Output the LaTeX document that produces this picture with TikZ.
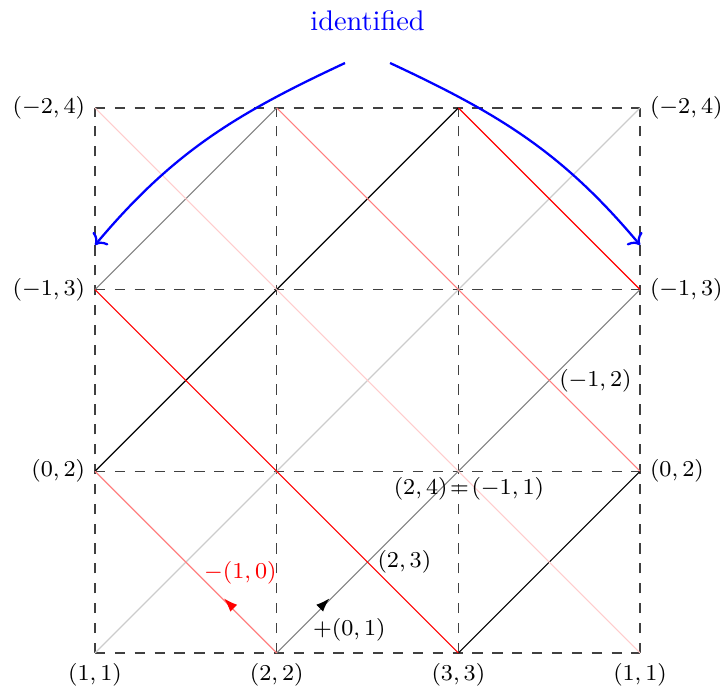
\documentclass[tikz,border=0pt]{standalone}
\usetikzlibrary{arrows.meta}

\begin{document}
\begin{tikzpicture}[
  x=2.25cm,
  y=2.25cm,
  line join=round,
  grid/.style={draw=black!75,dash pattern=on 3.6pt off 3.4pt,line width=0.5pt},
  ray/.style={line width=0.4pt},
  corner/.style={font=\footnotesize},
  glue/.style={draw=blue,thick,->},
  midtip/.style={-{Latex[length=1.7mm,width=1.2mm]}}
]
  \useasboundingbox (-0.523,-0.220) rectangle (3.462,3.594);

  % Lattice points of the fundamental square, (i,j) = column i, row j.
  \foreach \i in {0,1,2,3} {
    \foreach \j in {0,1,2,3} {
      \coordinate (p\i\j) at (\i,\j);
    }
  }

  % Dashed square grid.
  \foreach \k in {0,1,2,3} {
    \draw[grid] (p0\k) -- (p3\k);
    \draw[grid] (p\k0) -- (p\k3);
  }

  % Rising diagonals, faint to dark.
  \draw[ray,black!20] (p00) -- (p33);
  \draw[ray,black!50] (p10) -- (p32);
  \draw[ray,black!50] (p02) -- (p13);
  \draw[ray,black] (p01) -- (p23);
  \draw[ray,black] (p20) -- (p31);

  % Falling diagonals in shades of red.
  \draw[ray,red!20] (p03) -- (p30);
  \draw[ray,red!50] (p13) -- (p31);
  \draw[ray,red] (p23) -- (p32);
  \draw[ray,red] (p02) -- (p20);
  \draw[ray,red!50] (p10) -- (p01);

  % Direction tips near the bottom edge (tip only, the line keeps its shade).
  \coordinate (tailup) at (1.27,0.28);
  \coordinate (tipup) at (1.29,0.30);
  \coordinate (tailleft) at (0.73,0.28);
  \coordinate (tipleft) at (0.71,0.30);
  \draw[ray,midtip,black] (tailup) -- (tipup);
  \draw[ray,midtip,red] (tailleft) -- (tipleft);
  \node[corner,text=red] (minus) at (0.80,0.44) {$-(1,0)$};
  \node[corner] (plus) at (1.40,0.127) {$+(0,1)$};

  % Corner labels, left and right columns.
  \node[corner,left] (l3) at (p03) {$(-2,4)$};
  \node[corner,left] (l2) at (p02) {$(-1,3)$};
  \node[corner,left] (l1) at (p01) {$(0,2)$};
  \node[corner,right] (r3) at (p33) {$(-2,4)$};
  \node[corner,right] (r2) at (p32) {$(-1,3)$};
  \node[corner,right] (r1) at (p31) {$(0,2)$};

  % Bottom row labels.
  \node[corner,below] (b0) at (p00) {$(1,1)$};
  \node[corner,below] (b1) at (p10) {$(2,2)$};
  \node[corner,below] (b2) at (p20) {$(3,3)$};
  \node[corner,below] (b3) at (p30) {$(1,1)$};

  % Interior labels.
  \node[corner,right] (m1) at (1.5,0.5) {$(2,3)$};
  \node[corner,right] (m2) at (2.5,1.5) {$(-1,2)$};
  \node[corner] (m3) at (2.058,0.903) {$(2,4)\!=\!(-1,1)$};

  % Identification of the two slanted sides.
  \node[text=blue] (ident) at (1.5,3.48) {identified};
  \coordinate (gl) at (1.376,3.247);
  \coordinate (gr) at (1.624,3.247);
  \coordinate (el) at (0,2.245);
  \coordinate (er) at (3,2.245);
  \draw[glue] (gl) to[out=205,in=50] (el);
  \draw[glue] (gr) to[out=-25,in=130] (er);
\end{tikzpicture}
\end{document}
